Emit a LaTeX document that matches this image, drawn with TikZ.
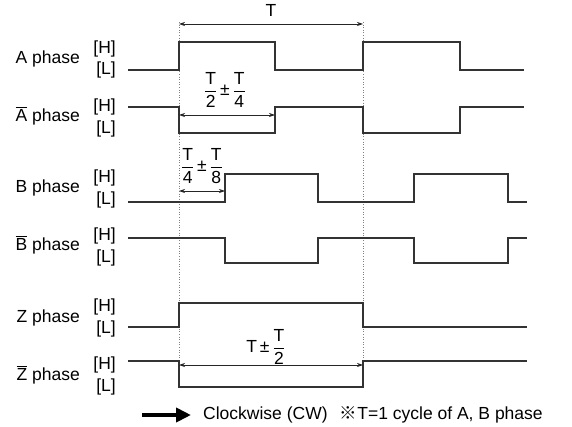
\documentclass[tikz,border=0pt]{standalone}
\usepackage{amsmath}
\usepackage{fontspec}
\setmainfont{Liberation Sans}
\newfontfamily\cjk{Noto Sans CJK JP}
\usetikzlibrary{arrows.meta,positioning,calc}
\tikzset{
    signal/.style={line width=1.1pt, black!80},
    guide/.style={dash pattern=on 1pt off 1.6pt, line width=0.9pt, black!50},
    dim/.style={{Stealth[length=6pt,width=4pt]}-{Stealth[length=6pt,width=4pt]}, line width=0.7pt, black!85},
    lvl/.style={inner sep=0pt, anchor=east, font=\fontsize{17.5}{18}\selectfont},
    phase/.style={inner sep=0pt, anchor=east, font=\fontsize{17.5}{18}\selectfont},
    frac/.style={inner sep=0pt, font=\fontsize{17.5}{18}\selectfont},
    cw/.style={-{Triangle[length=15pt,width=14pt]}, line width=4pt, black}
}
\newcommand{\ovl}[1]{$\overline{\text{#1}}$}

\begin{document}
\begin{tikzpicture}[x=1pt, y=-1pt]
            \useasboundingbox (0,0) rectangle (572,427);

            % level labels
            \node[phase] (pa) at (80,59) {A phase};
            \node[lvl] (ha) at (116,49) {[H]};
            \node[lvl] (la) at (116,70) {[L]};
            \node[phase] (pna) at (80,116) {\ovl{A} phase};
            \node[lvl] (hna) at (116,107) {[H]};
            \node[lvl] (lna) at (116,129) {[L]};
            \node[phase] (pb) at (80,188) {B phase};
            \node[lvl] (hb) at (116,178) {[H]};
            \node[lvl] (lb) at (116,200) {[L]};
            \node[phase] (pnb) at (80,245) {\ovl{B} phase};
            \node[lvl] (hnb) at (116,236) {[H]};
            \node[lvl] (lnb) at (116,258) {[L]};
            \node[phase] (pz) at (80,318) {Z phase};
            \node[lvl] (hz) at (116,307) {[H]};
            \node[lvl] (lz) at (116,329) {[L]};
            \node[phase] (pnz) at (80,375) {\ovl{Z} phase};
            \node[lvl] (hnz) at (116,365) {[H]};
            \node[lvl] (lnz) at (116,387) {[L]};

            % guides
            \coordinate (g1) at (179,22);
            \coordinate (g2) at (363,22);
            \draw[guide] (g1) -- ++(0,343);
            \draw[guide] (g2) -- ++(0,343);

            % waveforms
            \draw[signal] (128,70) -- (179,70) -- (179,42) -- (275,42) -- (275,70) -- (363,70) -- (363,42) -- (460,42) -- (460,70) -- (524,70);
            \draw[signal] (128,107) -- (179,107) -- (179,133) -- (275,133) -- (275,107) -- (363,107) -- (363,133) -- (460,133) -- (460,107) -- (524,107);
            \draw[signal] (128,202) -- (225,202) -- (225,174) -- (318,174) -- (318,202) -- (414,202) -- (414,174) -- (508,174) -- (508,202) -- (527,202);
            \draw[signal] (128,238) -- (225,238) -- (225,263) -- (318,263) -- (318,238) -- (414,238) -- (414,263) -- (508,263) -- (508,238) -- (527,238);
            \draw[signal] (128,327) -- (179,327) -- (179,303) -- (363,303) -- (363,327) -- (527,327);
            \draw[signal] (128,361) -- (179,361) -- (179,387) -- (363,387) -- (363,361) -- (527,361);

            % period T
            \coordinate (t1) at (179,24);
            \coordinate (t2) at (363,24);
            \draw[dim] (t1) -- (t2);
            \node[frac] (tt) at (271,10) {T};

            % A to A-bar width
            \coordinate (w1) at (179,115);
            \coordinate (w2) at (275,115);
            \draw[dim] (w1) -- (w2);
            \node[frac] (tw) at (225,90) {$\dfrac{\text{T}}{\text{2}}\,\text{±}\,\dfrac{\text{T}}{\text{4}}$};

            % A to B shift
            \coordinate (s1) at (179,191);
            \coordinate (s2) at (225,191);
            \draw[dim] (s1) -- (s2);
            \node[frac] (ts) at (202,166) {$\dfrac{\text{T}}{\text{4}}\,\text{±}\,\dfrac{\text{T}}{\text{8}}$};

            % Z width
            \coordinate (z1) at (179,365);
            \coordinate (z2) at (363,365);
            \draw[dim] (z1) -- (z2);
            \node[frac] (tz) at (266,347) {T$\,\text{±}\,\dfrac{\text{T}}{\text{2}}$};

            % legend
            \coordinate (c1) at (142,415);
            \coordinate (c2) at (191,415);
            \draw[cw] (c1) -- (c2);
            \node[phase, anchor=west] (cwl) at (203,415) {Clockwise (CW)\hspace{0.7em}{\cjk ※}T=1 cycle of A, B phase};
        \end{tikzpicture}
\end{document}
